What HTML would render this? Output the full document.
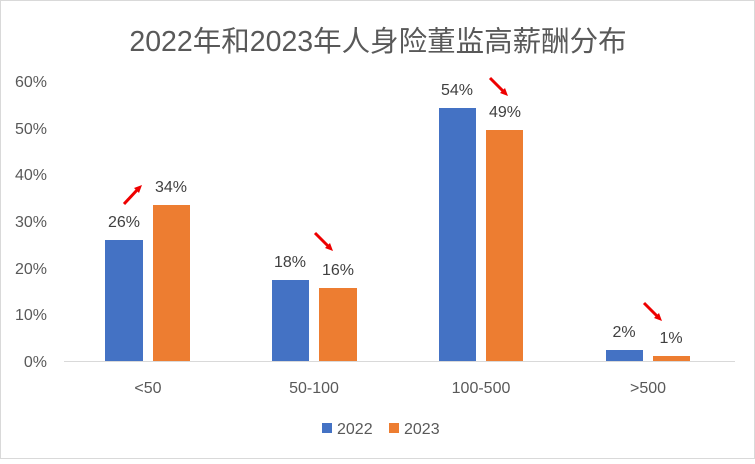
<!DOCTYPE html><html><head><style>body{margin:0;background:#fff}</style></head><body>
<svg width="755" height="459" xmlns="http://www.w3.org/2000/svg" font-family="Liberation Sans, Noto Sans CJK SC, sans-serif">
<rect x="0.5" y="0.5" width="754" height="458" fill="#fff" stroke="#d9d9d9"/>
<text x="378" y="51" text-anchor="middle" font-size="28.5" fill="#595959">2022年和2023年人身险董监高薪酬分布</text>
<g font-size="16" fill="#595959" text-anchor="end">
<text x="47" y="87">60%</text><text x="47" y="134">50%</text><text x="47" y="180">40%</text><text x="47" y="227">30%</text><text x="47" y="274">20%</text><text x="47" y="320">10%</text><text x="47" y="367">0%</text>
</g>
<line x1="64" y1="361.5" x2="735" y2="361.5" stroke="#d9d9d9"/>
<g fill="#4472c4"><rect x="105" y="240" width="38" height="121"/><rect x="272" y="280" width="37" height="81"/><rect x="439" y="108" width="37" height="253"/><rect x="606" y="350" width="37" height="11"/></g>
<g fill="#ed7d31"><rect x="153" y="205" width="37" height="156"/><rect x="319" y="288" width="38" height="73"/><rect x="486" y="130" width="37" height="231"/><rect x="653" y="356" width="37" height="5"/></g>
<g font-size="16" fill="#404040" text-anchor="middle">
<text x="124" y="227">26%</text><text x="171" y="192">34%</text>
<text x="290" y="267">18%</text><text x="338" y="275">16%</text>
<text x="457" y="95">54%</text><text x="505" y="117">49%</text>
<text x="624" y="337">2%</text><text x="671" y="343">1%</text>
</g>
<g stroke="#e00" stroke-width="3" fill="#e00">
<line x1="124" y1="204" x2="138" y2="189"/><polygon points="142,185 134,188 139,193" stroke="none"/>
<line x1="315" y1="233" x2="329" y2="247"/><polygon points="333,251 325,248 330,243" stroke="none"/>
<line x1="490" y1="78" x2="504" y2="92"/><polygon points="508,96 500,93 505,88" stroke="none"/>
<line x1="644" y1="303" x2="658" y2="317"/><polygon points="662,321 654,318 659,313" stroke="none"/>
</g>
<g font-size="16" fill="#595959" text-anchor="middle">
<text x="148" y="393">&lt;50</text><text x="314" y="393">50-100</text><text x="481" y="393">100-500</text><text x="648" y="393">&gt;500</text>
</g>
<rect x="322" y="423" width="10" height="10" fill="#4472c4"/><text x="337" y="434" font-size="16" fill="#595959">2022</text>
<rect x="389" y="423" width="10" height="10" fill="#ed7d31"/><text x="404" y="434" font-size="16" fill="#595959">2023</text>
</svg>
</body></html>
